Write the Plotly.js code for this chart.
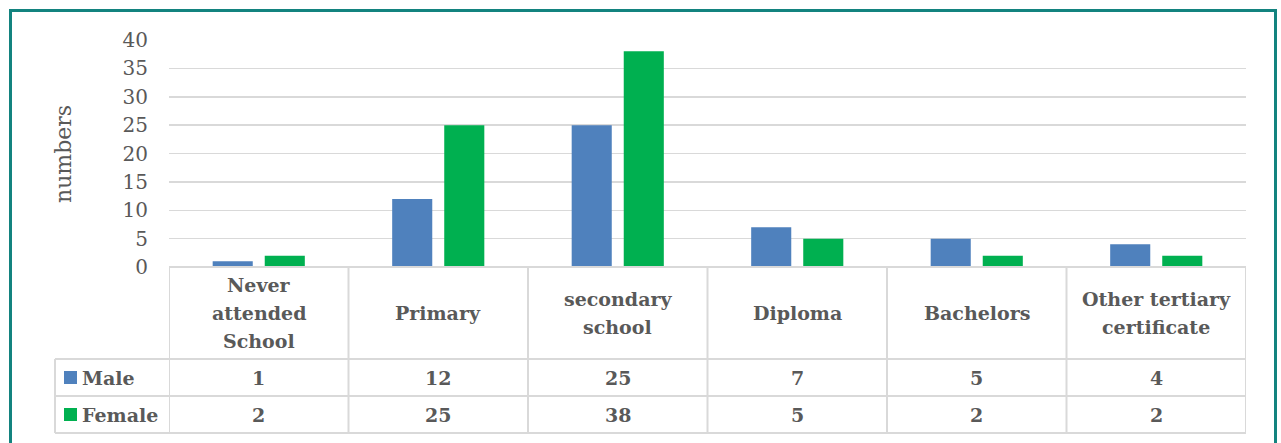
<!DOCTYPE html>
<html><head><meta charset="utf-8">
<script src="https://cdn.plot.ly/plotly-3.0.1.min.js"></script>
<style>
html,body{margin:0;padding:0;background:#fff;}
#wrap{position:relative;width:1281px;height:443px;overflow:hidden;}
#chart{position:absolute;left:0;top:0;width:1281px;height:443px;}
#frame{position:absolute;left:9px;top:9px;width:1262px;height:460px;border:3px solid #13837f;pointer-events:none;}
</style></head>
<body>
<div id="wrap"><div id="chart"></div><div id="frame"></div></div>
<script>
const categories = ["Never attended School","Primary","secondary school","Diploma","Bachelors","Other tertiary certificate"];
const categoryLabels = ["Never<br>attended<br>School","Primary","secondary<br>school","Diploma","Bachelors","Other tertiary<br>certificate"];
const seriesNames = ["Male","Female"];
const male = [1,12,25,7,5,4];
const female = [2,25,38,5,2,2];
const colors = ["#4f81bd","#00b050"];
const yTicks = [0,5,10,15,20,25,30,35,40];

const FONT = '"DejaVu Serif", serif';
const TXT = '#595959';
const GRID = '#d9d9d9';

const W = 1281, H = 443;
const L = 169, R = 1246, T = 40, B = 267;
const pw = R - L, ph = B - T;
const px = x => (x - L) / pw;
const py = y => (B - y) / ph;

const rowTops = [267, 359, 396, 433];
const leftX = 55;
const LINE_H = 28;
const TSIZE = 19;

const data = [
  {type:'bar', name:seriesNames[0], x:categories, y:male, marker:{color:colors[0]}},
  {type:'bar', name:seriesNames[1], x:categories, y:female, marker:{color:colors[1]}}
];

const shapes = [];
const line = {color:GRID, width:2};
shapes.push({type:'line', xref:'paper', yref:'paper', x0:0, x1:1, y0:py(rowTops[0]), y1:py(rowTops[0]), line});
for (let k=1;k<4;k++) shapes.push({type:'line', xref:'paper', yref:'paper', x0:px(leftX), x1:1, y0:py(rowTops[k]), y1:py(rowTops[k]), line});
for (let i=0;i<=categories.length;i++) shapes.push({type:'line', xref:'x', yref:'paper', x0:i-0.5, x1:i-0.5, y0:py(rowTops[0]), y1:py(rowTops[3]), line});
shapes.push({type:'line', xref:'paper', yref:'paper', x0:px(leftX), x1:px(leftX), y0:py(rowTops[1]), y1:py(rowTops[3]), line});

const annotations = [];
annotations.push({xref:'paper', yref:'paper', x:px(63), y:py(154), text:'numbers', textangle:-90, showarrow:false, font:{family:FONT,size:22,color:TXT}, xanchor:'center', yanchor:'middle'});
// category labels, one annotation per line for Excel-like line spacing
categoryLabels.forEach((c,i)=>{
  const lines = c.split('<br>');
  const mid = (rowTops[0]+rowTops[1])/2;
  lines.forEach((t,j)=>{
    const yc = mid + (j - (lines.length-1)/2)*LINE_H;
    annotations.push({xref:'x', yref:'paper', x:categories[i], y:py(yc), text:'<b>'+t+'</b>', showarrow:false, font:{family:FONT,size:TSIZE,color:TXT}, xanchor:'center', yanchor:'middle'});
  });
});
[male,female].forEach((vals,s)=>{
  const top = rowTops[s+1], bot = rowTops[s+2], mid = (top+bot)/2;
  vals.forEach((v,i)=>annotations.push({xref:'x', yref:'paper', x:categories[i], y:py(mid), text:'<b>'+v+'</b>', showarrow:false, font:{family:FONT,size:TSIZE,color:TXT}, xanchor:'center', yanchor:'middle'}));
  annotations.push({xref:'paper', yref:'paper', x:px(80), y:py(mid), text:'<b>'+seriesNames[s]+'</b>', showarrow:false, font:{family:FONT,size:TSIZE,color:TXT}, xanchor:'left', yanchor:'middle'});
  shapes.push({type:'rect', xref:'paper', yref:'paper', x0:px(64), x1:px(77), y0:py(mid-6.5), y1:py(mid+6.5), fillcolor:colors[s], line:{width:0}});
});

const layout = {
  width:W, height:H,
  margin:{l:L, r:W-R, t:T, b:H-B, pad:0},
  paper_bgcolor:'#fff', plot_bgcolor:'#fff',
  barmode:'group', bargap:0.42, bargroupgap:0.23,
  showlegend:false,
  font:{family:FONT, color:TXT},
  xaxis:{type:'category', range:[-0.5,5.5], showticklabels:false, showgrid:false, zeroline:false, showline:false, ticks:''},
  yaxis:{range:[0,40], tickvals:yTicks, ticktext:yTicks.map(String), showgrid:true, gridcolor:GRID, gridwidth:1.5, zeroline:false, showline:false, ticks:'', ticklabelstandoff:20, tickfont:{family:FONT,size:20,color:TXT}},
  shapes, annotations
};
Plotly.newPlot('chart', data, layout, {displayModeBar:false, staticPlot:true});
</script>
</body></html>
